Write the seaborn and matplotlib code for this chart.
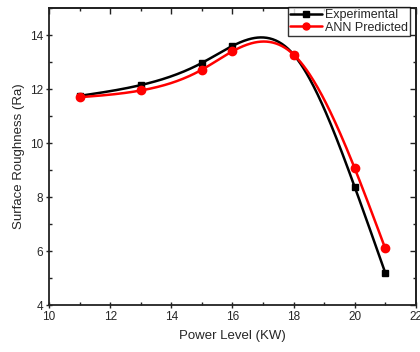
import numpy as np
import pandas as pd
import matplotlib
matplotlib.use('Agg')
import matplotlib.pyplot as plt
import seaborn as sns
from matplotlib.ticker import MultipleLocator, NullFormatter
from matplotlib.lines import Line2D

sns.set_theme(style='ticks')
plt.rcParams['font.family'] = ['Liberation Sans', 'DejaVu Sans']

# Data
power = [11, 13, 15, 16, 18, 20, 21]
experimental = [11.75, 12.15, 12.97, 13.6, 13.28, 8.38, 5.2]
ann_predicted = [11.7, 11.95, 12.72, 13.4, 13.28, 9.07, 6.1]


def natural_spline(x, y, n=300):
    # natural cubic spline through the points, for the smooth connecting line
    x = np.asarray(x, float)
    y = np.asarray(y, float)
    k = len(x)
    h = np.diff(x)
    A = np.zeros((k, k))
    b = np.zeros(k)
    A[0, 0] = A[-1, -1] = 1
    for i in range(1, k - 1):
        A[i, i - 1] = h[i - 1]
        A[i, i] = 2 * (h[i - 1] + h[i])
        A[i, i + 1] = h[i]
        b[i] = 6 * ((y[i + 1] - y[i]) / h[i] - (y[i] - y[i - 1]) / h[i - 1])
    M = np.linalg.solve(A, b)
    xs = np.linspace(x[0], x[-1], n)
    idx = np.clip(np.searchsorted(x, xs) - 1, 0, k - 2)
    x0, x1 = x[idx], x[idx + 1]
    hh = x1 - x0
    t0, t1 = x1 - xs, xs - x0
    ys = (M[idx] * t0**3 / (6 * hh) + M[idx + 1] * t1**3 / (6 * hh)
          + (y[idx] / hh - M[idx] * hh / 6) * t0
          + (y[idx + 1] / hh - M[idx + 1] * hh / 6) * t1)
    return xs, ys


fig, ax = plt.subplots(figsize=(4.2, 3.52), dpi=100)
fig.subplots_adjust(left=0.117, right=0.99, top=0.977, bottom=0.133)

series = [('Experimental', experimental, 'black', 's', 5),
          ('ANN Predicted', ann_predicted, 'red', 'o', 6)]
handles = []
for name, vals, color, marker, ms in series:
    xs, ys = natural_spline(power, vals)
    curve = pd.DataFrame({'x': xs, 'y': ys})
    sns.lineplot(data=curve, x='x', y='y', ax=ax, color=color, lw=1.8)
    ax.plot(power, vals, ls='none', marker=marker, ms=ms, color=color)
    handles.append(Line2D([], [], color=color, lw=1.8, marker=marker,
                          ms=ms - 1, label=name))

ax.set_xlim(10, 22)
ax.set_ylim(4, 15)
ax.xaxis.set_major_locator(MultipleLocator(2))
ax.xaxis.set_minor_locator(MultipleLocator(1))
ax.yaxis.set_major_locator(MultipleLocator(2))
ax.yaxis.set_minor_locator(MultipleLocator(1))
ax.tick_params(which='both', labelsize=8.5, color='#222222', width=1, pad=2)
ax.tick_params(which='major', length=5, direction='inout')
ax.tick_params(which='minor', length=2.5, direction='in')

# mirrored ticks on top and right, pointing inward, no labels
top = ax.secondary_xaxis('top')
right = ax.secondary_yaxis('right')
for sec, axis in ((top, top.xaxis), (right, right.yaxis)):
    axis.set_major_locator(MultipleLocator(2))
    axis.set_minor_locator(MultipleLocator(1))
    axis.set_major_formatter(NullFormatter())
    sec.tick_params(which='both', direction='in', color='#222222', width=1)
    sec.tick_params(which='major', length=4)
    sec.tick_params(which='minor', length=2.5)
    for sp in sec.spines.values():
        sp.set_linewidth(1.3)
        sp.set_color('#222222')

for sp in ax.spines.values():
    sp.set_linewidth(1.3)
    sp.set_color('#222222')

ax.set_xlabel('Power Level (KW)', fontsize=9.5, labelpad=5)
ax.set_ylabel('Surface Roughness (Ra)', fontsize=9.5, labelpad=3)

leg = ax.legend(handles=handles, loc='upper right', bbox_to_anchor=(0.985, 1.003),
                fontsize=9, frameon=True, fancybox=False, edgecolor='black',
                borderpad=0.15, labelspacing=0.05, handlelength=2.6,
                handletextpad=0.25, borderaxespad=0)
leg.get_frame().set_linewidth(1)

fig.savefig('out.png', dpi=100)
